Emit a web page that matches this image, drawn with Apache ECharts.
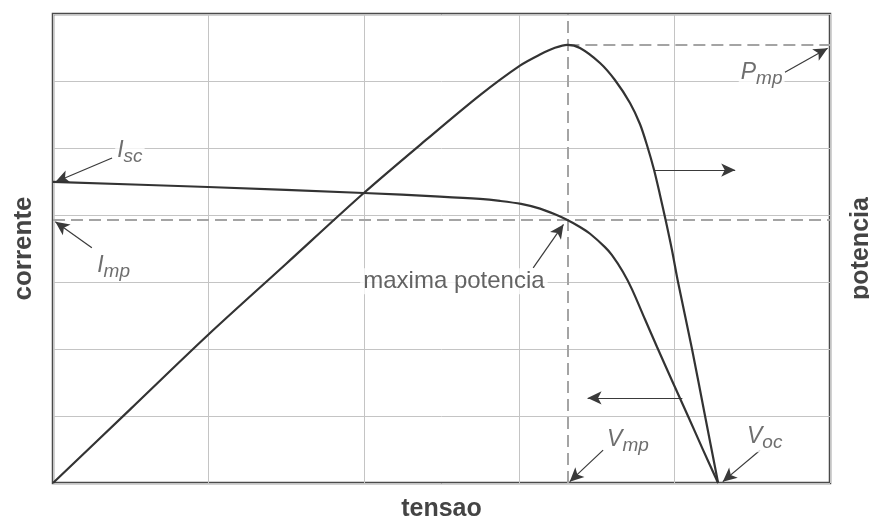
<!DOCTYPE html>
<html>
<head>
<meta charset="utf-8">
<script src="https://cdn.jsdelivr.net/npm/echarts@6/dist/echarts.min.js"></script>
<style>
  html, body { margin: 0; padding: 0; background: #fff; }
  #chart { width: 869px; height: 518px; }
</style>
</head>
<body>
<div id="chart"></div>
<script>
// I-V curve (corrente vs tensao)
const currentV = [0, 9.97, 20.0, 24.9, 27.48, 28.76, 30.12, 31.34, 32.3, 33.1, 33.91, 34.56, 35.52, 35.97, 36.68, 37.26, 38.1, 38.87, 39.83, 40.86, 41.83, 42.8];
const currentI = [44.93, 44.18, 43.28, 42.75, 42.4, 42.1, 41.65, 40.95, 40.1, 39.25, 38.21, 37.2, 35.2, 34.0, 31.5, 28.9, 24.4, 20.3, 15.3, 10.0, 4.95, 0];

// P-V curve (potencia vs tensao)
const powerV = [0, 5.0, 9.97, 14.99, 20.0, 24.0, 27.48, 30.05, 31.34, 32.3, 33.1, 33.91, 35.2, 36.16, 37.13, 37.77, 38.22, 38.68, 39.06, 39.45, 39.83, 40.22, 41.12, 41.96, 42.8];
const powerP = [0, 11.07, 22.09, 32.69, 43.28, 51.2, 57.9, 62.3, 63.95, 64.95, 65.4, 64.93, 62.69, 60.15, 56.72, 53.58, 50.45, 46.72, 42.99, 38.96, 34.78, 30.0, 20.0, 10.0, 0];

// Characteristic points
const Vmp = 33.1, Imp = 39.25, Pmp = 65.4, Voc = 42.8, Isc = 44.93;

// Symbol labels: [tensao, value, letter, subscript]
const symbolLabels = [
  [4.95, 49.6, 'I', 'sc'],
  [3.9, 32.4, 'I', 'mp'],
  [45.6, 61.2, 'P', 'mp'],
  [37.0, 6.5, 'V', 'mp'],
  [45.8, 6.9, 'V', 'oc']
];
const mppLabel = [25.8, 30.1, 'maxima potencia'];

const axisNames = { x: 'tensao', left: 'corrente', right: 'potencia' };

const ink = '#333';
const dashGray = '#a4a4a4';
const labelFont = '"Liberation Sans", Arial, sans-serif';

const richSub = {
  m: { fontSize: 23, fontStyle: 'italic', color: '#4a4a4a', fontFamily: labelFont },
  s: { fontSize: 19, fontStyle: 'italic', color: '#4a4a4a', fontFamily: labelFont, padding: [12, 0, 0, 0] }
};

function arrow(from, to) {
  return [{ coord: from }, { coord: to }];
}

const pair = (xs, ys) => xs.map((x, i) => [x, ys[i]]);

const chart = echarts.init(document.getElementById('chart'));
chart.setOption({
  animation: false,
  backgroundColor: '#fff',
  grid: {
    left: 53, top: 14, right: 39, bottom: 35,
    outerBoundsMode: 'none',
    containLabel: false,
    show: true, borderColor: '#4a4a4a', borderWidth: 2.5, backgroundColor: 'transparent'
  },
  xAxis: {
    type: 'value', min: 0, max: 50, interval: 10,
    name: axisNames.x, nameLocation: 'middle', nameGap: 14,
    nameTextStyle: { fontSize: 25, fontWeight: 'bold', color: '#444', fontFamily: labelFont },
    axisLine: { show: false }, axisTick: { show: false }, axisLabel: { show: false },
    splitLine: { show: true, lineStyle: { color: '#c4c4c4', width: 1 } }
  },
  yAxis: [{
    type: 'value', min: 0, max: 70, interval: 10,
    name: axisNames.left, nameLocation: 'middle', nameGap: 16, nameRotate: 90,
    nameTextStyle: { fontSize: 26, fontWeight: 'bold', color: '#444', fontFamily: labelFont },
    axisLine: { show: false }, axisTick: { show: false }, axisLabel: { show: false },
    splitLine: { show: true, lineStyle: { color: '#c4c4c4', width: 1 } }
  }, {
    type: 'value', min: 0, max: 70, interval: 10, position: 'right',
    name: axisNames.right, nameLocation: 'middle', nameGap: 19, nameRotate: 90,
    nameTextStyle: { fontSize: 25, fontWeight: 'bold', color: '#444', fontFamily: labelFont },
    axisLine: { show: false }, axisTick: { show: false }, axisLabel: { show: false },
    splitLine: { show: false }
  }],
  series: [
    {
      name: 'corrente',
      type: 'line',
      yAxisIndex: 0,
      data: pair(currentV, currentI),
      smooth: 0.3,
      showSymbol: false,
      lineStyle: { color: ink, width: 2.2 },
      z: 5,
      markLine: {
        silent: true,
        symbol: ['none', 'none'],
        label: { show: false },
        lineStyle: { color: dashGray, width: 2, type: [12, 6] },
        data: [
          { xAxis: Vmp },
          { yAxis: Imp },
          [{ coord: [Vmp, Pmp] }, { coord: [50, Pmp] }]
        ],
        z: 3
      }
    },
    {
      name: 'potencia',
      type: 'line',
      yAxisIndex: 1,
      data: pair(powerV, powerP),
      smooth: 0.3,
      showSymbol: false,
      lineStyle: { color: ink, width: 2.2 },
      z: 5,
      markLine: {
        silent: true,
        symbol: ['none', 'arrow'],
        symbolSize: [10, 14],
        label: { show: false },
        lineStyle: { color: '#3a3a3a', width: 1.2, type: 'solid' },
        data: [
          arrow([3.8, 48.5], [0.15, Isc]),
          arrow([2.5, 35.1], [0.15, 39.0]),
          arrow([47.1, 61.3], [49.85, 64.9]),
          arrow([30.9, 32.1], [32.85, 38.6]),
          arrow([35.4, 4.9], [33.25, 0.2]),
          arrow([45.5, 4.9], [43.1, 0.2]),
          arrow([38.68, 46.7], [43.9, 46.7]),
          arrow([40.5, 12.7], [34.4, 12.7])
        ],
        z: 4
      }
    },
    {
      name: 'rotulos',
      type: 'scatter',
      silent: true,
      symbolSize: 1,
      itemStyle: { color: 'rgba(0,0,0,0)' },
      z: 6,
      data: symbolLabels.map(d => ({
        value: [d[0], d[1]],
        label: {
          show: true, position: 'inside',
          formatter: '{m|' + d[2] + '}{s|' + d[3] + '}',
          rich: richSub,
          backgroundColor: '#fff', padding: [0, 2, 0, 2]
        }
      })).concat([{
        value: [mppLabel[0], mppLabel[1]],
        label: {
          show: true, position: 'inside',
          formatter: mppLabel[2],
          fontSize: 24, color: '#3c3c3c', fontFamily: labelFont,
          backgroundColor: '#fff', padding: [1, 3, 1, 3]
        }
      }])
    }
  ]
});
</script>
</body>
</html>
